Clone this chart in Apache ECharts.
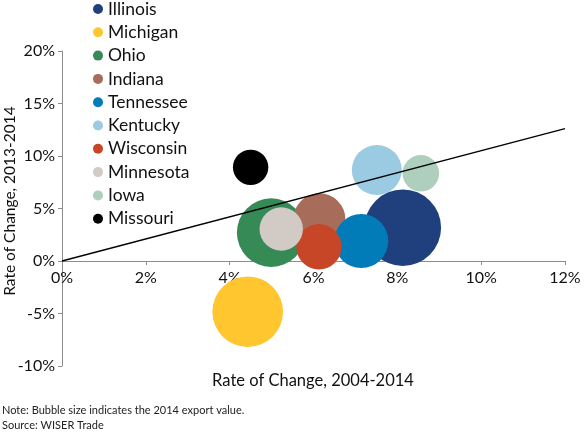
<!DOCTYPE html>
<html><head><meta charset="utf-8">
<script src="https://cdn.jsdelivr.net/npm/echarts@6/dist/echarts.min.js"></script>
<style>html,body{margin:0;padding:0;background:#fff}#c{width:586px;height:435px}</style>
</head><body><div id="c"></div>
<script>
const states = ['Illinois','Michigan','Ohio','Indiana','Tennessee','Kentucky','Wisconsin','Minnesota','Iowa','Missouri'];
const growth0414 = [8.13, 4.43, 4.99, 6.14, 7.14, 7.51, 6.13, 5.23, 8.56, 4.50];   // x, %
const growth1314 = [3.17, -4.83, 2.70, 3.97, 1.90, 8.67, 1.36, 3.05, 8.35, 8.92];  // y, %
const export2014 = [67.9, 57.7, 54.4, 31.3, 33.7, 28.9, 23.8, 21.8, 15.5, 14.5];  // bubble size (bn USD)
const colors = ['#1F3F7D','#FFC62F','#358A56','#A86C5B','#017CB9','#9ACBE3','#C64627','#D2CAC4','#AECFBB','#000000'];
const trendX = [0, 12];
const trendY = [0, 12.6];
const xTicks = {min: 0, max: 12, interval: 2};
const yTicks = {min: -10, max: 20, interval: 5};
const xTitle = 'Rate of Change, 2004-2014';
const yTitle = 'Rate of Change, 2013-2014';

const FONT = 'Lato';
const AX = '#8c8c8c';
const k = 76.6 / Math.sqrt(67.9);
const series = states.map((s, i) => ({
  name: s, type: 'scatter', xAxisIndex: 0, yAxisIndex: 0,
  data: [[growth0414[i], growth1314[i], export2014[i]]],
  symbolSize: d => k * Math.sqrt(d[2]),
  itemStyle: {color: colors[i], opacity: 1},
  z: 2 + i
}));
series.push({
  name: 'trend', type: 'line', xAxisIndex: 0, yAxisIndex: 0,
  data: trendX.map((x, i) => [x, trendY[i]]),
  showSymbol: false, symbol: 'none',
  lineStyle: {color: '#000', width: 1.3},
  z: 20, silent: true
});

const chart = echarts.init(document.getElementById('c'), null, {renderer: 'canvas'});
chart.setOption({
  animation: false,
  backgroundColor: '#fff',
  textStyle: {fontFamily: FONT},
  grid: [
    {left: 62, right: 21, top: 51, bottom: 69, containLabel: false, outerBoundsMode: 'none'},
    {left: 62, right: 21, top: 51, bottom: 174, containLabel: false, outerBoundsMode: 'none'}
  ],
  legend: {
    data: states.map((s, i) => ({name: s, itemStyle: {color: colors[i]}})),
    orient: 'vertical', left: 88, top: -5,
    icon: 'circle', itemWidth: 10, itemHeight: 10, itemGap: 5.3,
    textStyle: {fontFamily: FONT, fontSize: 17.5, color: '#111'}
  },
  xAxis: [{
    gridIndex: 0, type: 'value', min: xTicks.min, max: xTicks.max, interval: xTicks.interval,
    axisLine: {show: false}, axisTick: {show: false}, axisLabel: {show: false}, splitLine: {show: false}
  }, {
    gridIndex: 1, type: 'value', position: 'bottom', min: xTicks.min, max: xTicks.max, interval: xTicks.interval,
    axisLine: {show: true, onZero: false, lineStyle: {color: AX, width: 1}},
    axisTick: {show: true, length: 4, lineStyle: {color: AX}},
    axisLabel: {formatter: '{value}%', fontFamily: FONT, fontSize: 16, color: '#111', margin: 9},
    splitLine: {show: false}
  }],
  yAxis: [{
    gridIndex: 0, type: 'value', min: yTicks.min, max: yTicks.max, interval: yTicks.interval,
    axisLine: {show: true, onZero: false, lineStyle: {color: AX, width: 1}},
    axisTick: {show: true, length: 4, lineStyle: {color: AX}},
    axisLabel: {formatter: '{value}%', fontFamily: FONT, fontSize: 16, color: '#111', margin: 7},
    splitLine: {show: false}
  }, {
    gridIndex: 1, type: 'value', min: 0, max: yTicks.max,
    axisLine: {show: false}, axisTick: {show: false}, axisLabel: {show: false}, splitLine: {show: false}
  }],
  graphic: [
    {type: 'text', x: 313, y: 381, style: {text: xTitle, fontFamily: FONT, fontSize: 16.5, fill: '#111', align: 'center', verticalAlign: 'middle'}},
    {type: 'text', x: 10, y: 201, rotation: Math.PI / 2, style: {text: yTitle, fontFamily: FONT, fontSize: 15.5, fill: '#111', align: 'center', verticalAlign: 'middle'}},
    {type: 'text', left: 2, top: 405, style: {text: 'Note: Bubble size indicates the 2014 export value.', fontFamily: FONT, fontSize: 11, fill: '#222'}},
    {type: 'text', left: 2, top: 420, style: {text: 'Source: WISER Trade', fontFamily: FONT, fontSize: 11, fill: '#222'}}
  ],
  series: series
});
</script></body></html>
